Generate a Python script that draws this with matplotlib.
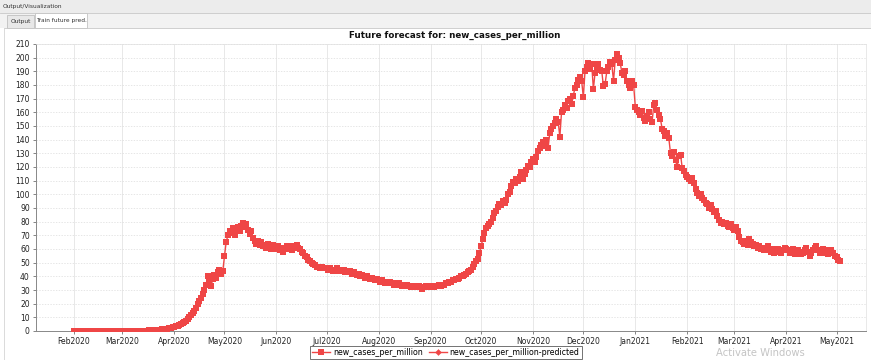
import matplotlib
matplotlib.use('Agg')
import matplotlib.pyplot as plt
import matplotlib.dates as mdates
from matplotlib.lines import Line2D
from matplotlib.patches import Rectangle
import numpy as np
import datetime

# ---------------- data (daily, starting 2020-02-01) ----------------
feb2020 = [0.0, 0.0, 0.0, 0.0, 0.0, 0.0, 0.0, 0.0, 0.0, 0.0, 0.0, 0.0, 0.0, 0.0, 0.0,
           0.0, 0.0, 0.0, 0.0, 0.0, 0.0, 0.0, 0.0, 0.0, 0.0, 0.0, 0.0, 0.0, 0.0]
mar2020 = [0.0, 0.0, 0.0, 0.0, 0.0, 0.0, 0.1, 0.1, 0.1, 0.1, 0.1, 0.2, 0.2, 0.2, 0.3, 0.3,
           0.4, 0.4, 0.5, 0.6, 0.7, 0.8, 0.9, 1.0, 1.2, 1.4, 1.6, 1.8, 2.0, 2.3, 2.6]
apr2020 = [3.0, 3.4, 4.0, 4.5, 5.2, 6.0, 6.8, 7.5, 9.0, 10.5, 12.0, 13.5, 15.0, 17.0, 19.5,
           22.0, 24.0, 27.0, 30.0, 34.0, 40.0, 36.0, 33.0, 38.0, 41.0, 39.0, 43.0, 45.0, 42.0, 44.0]
may2020 = [55, 65, 70, 73, 72, 75, 70, 74, 76, 73, 77, 79, 76, 78, 74, 71, 73, 68, 66, 64,
           66, 63, 65, 62, 63, 61, 64, 62, 60, 63, 61]
jun2020 = [60, 62, 59, 61, 58, 60, 62, 60, 61, 59, 62, 61, 63, 61, 60, 58, 57, 55, 54, 52,
           51, 50, 49, 48, 47, 47, 46, 47, 46, 46]
jul2020 = [46, 45, 46, 45, 44, 45, 46, 44, 45, 44, 45, 43, 44, 43, 44, 42, 43, 42, 41, 42,
           40, 41, 40, 39, 40, 39, 38, 39, 38, 37, 38]
aug2020 = [37, 36, 37, 36, 35, 36, 35, 36, 35, 34, 35, 34, 35, 34, 33, 34, 33, 34, 33, 32,
           33, 32, 33, 32, 33, 32, 31, 32, 33, 32, 33]
sep2020 = [32, 33, 32, 33, 33, 34, 33, 34, 34, 35, 35, 36, 36, 37, 37, 38, 38, 39, 40, 40,
           41, 42, 43, 44, 45, 47, 49, 51, 53, 57]
oct2020 = [62, 67, 72, 75, 77, 78, 80, 83, 86, 88, 91, 93, 92, 95, 94, 96, 100, 102, 106, 109,
           108, 111, 110, 113, 116, 111, 115, 118, 121, 120, 124]
nov2020 = [126, 124, 127, 132, 134, 136, 138, 135, 140, 134, 145, 148, 150, 152, 155, 153, 142,
           160, 162, 165, 163, 168, 170, 166, 172, 178, 180, 184, 186, 183]
dec2020 = [171, 190, 193, 196, 192, 195, 177, 189, 193, 195, 191, 190, 179, 181, 190, 193, 197,
           195, 183, 198, 203, 200, 196, 189, 187, 190, 183, 180, 178, 183, 180]
jan2021 = [164, 162, 160, 158, 161, 156, 154, 157, 160, 155, 153, 165, 167, 162, 158, 155, 148,
           146, 143, 145, 141, 130, 128, 131, 125, 120, 128, 129, 119, 117, 114]
feb2021 = [113, 111, 110, 112, 108, 104, 101, 99, 100, 97, 96, 94, 93, 90, 92, 89, 87, 88, 84,
           81, 79, 80, 78, 79, 77, 76, 78, 75]
mar2021 = [74, 76, 73, 69, 66, 65, 64, 66, 63, 67, 65, 64, 62, 63, 61, 62, 60, 61, 59, 60, 62,
           59, 58, 60, 57, 59, 60, 58, 57, 59, 61]
apr2021 = [60, 59, 57, 58, 60, 56, 57, 59, 58, 56, 57, 59, 61, 58, 55, 57, 59, 61, 62, 59, 57,
           58, 60, 59, 57, 56, 58, 59, 57, 55]
may2021 = [54, 52, 51]

start_date = '2020-02-01'
month_labels = ['Feb2020', 'Mar2020', 'Apr2020', 'May2020', 'Jun2020', 'Jul2020', 'Aug2020',
                'Sep2020', 'Oct2020', 'Nov2020', 'Dec2020', 'Jan2021', 'Feb2021', 'Mar2021',
                'Apr2021', 'May2021']
y_ticks = list(range(0, 211, 10))
title = 'Future forecast for: new_cases_per_million'
series_names = ['new_cases_per_million', 'new_cases_per_million-predicted']

values = (feb2020 + mar2020 + apr2020 + may2020 + jun2020 + jul2020 + aug2020 + sep2020 +
          oct2020 + nov2020 + dec2020 + jan2021 + feb2021 + mar2021 + apr2021 + may2021)
dates = np.datetime64(start_date) + np.arange(len(values))
dates = dates.astype('datetime64[D]').astype(datetime.datetime)

RED = '#EF4646'

fig = plt.figure(figsize=(8.71, 3.60), dpi=100)
fig.patch.set_facecolor('white')

# ---------------- window chrome ----------------
W, H = 871.0, 360.0
def fx(x): return x / W
def fy(y): return 1 - y / H

fig.add_artist(Rectangle((0, fy(13)), 1, 13 / H, transform=fig.transFigure,
                         facecolor='#ececec', edgecolor='none', zorder=0))
fig.add_artist(Rectangle((0, fy(28)), 1, 15 / H, transform=fig.transFigure,
                         facecolor='#f2f2f2', edgecolor='none', zorder=0))
fig.add_artist(Line2D([0, 1], [fy(13), fy(13)], transform=fig.transFigure,
                      color='#c8c8c8', lw=0.6))
fig.add_artist(Line2D([fx(4), 1], [fy(28), fy(28)], transform=fig.transFigure,
                      color='#c8c8c8', lw=0.6))
fig.add_artist(Line2D([fx(4), fx(4)], [0, fy(28)], transform=fig.transFigure,
                      color='#d4d4d4', lw=0.6))
fig.text(fx(3), fy(6.5), 'Output/Visualization', fontsize=4.2, color='#333333',
         va='center', ha='left', family='DejaVu Sans')
# tabs
fig.add_artist(Rectangle((fx(7), fy(28)), 27 / W, 13 / H, transform=fig.transFigure,
                         facecolor='#e8e8e8', edgecolor='#b8b8b8', lw=0.5))
fig.add_artist(Rectangle((fx(35), fy(28)), 52 / W, 15 / H, transform=fig.transFigure,
                         facecolor='white', edgecolor='#b8b8b8', lw=0.5))
fig.text(fx(20.5), fy(21.5), 'Output', fontsize=4.2, color='#333333', ha='center', va='center')
fig.text(fx(61), fy(20.5), 'Train future pred.', fontsize=4.2, color='#333333',
         ha='center', va='center')

# ---------------- chart ----------------
ax = fig.add_axes([fx(36), fy(331), (866 - 36) / W, (331 - 44) / H])
ax.plot(dates, values, color=RED, lw=1.0, marker='s', markersize=3.9,
        markeredgewidth=0, zorder=3)

tick_dates = [datetime.datetime.strptime(m, '%b%Y') for m in month_labels]
ax.set_xticks(tick_dates)
ax.set_xticklabels(month_labels)
ax.set_xlim(datetime.datetime(2020, 1, 9, 14), datetime.datetime(2021, 5, 18, 14))
ax.set_ylim(0, 210)
ax.set_yticks(y_ticks)
ax.set_yticklabels([str(v) for v in y_ticks])

ax.tick_params(axis='both', labelsize=5.5, colors='#555555', labelcolor='#222222',
               length=2.5, width=0.5, pad=2)
ax.grid(axis='y', color='#dcdcdc', lw=0.5, linestyle=(0, (2, 2)))
ax.grid(axis='x', color='#e4e4e4', lw=0.6, linestyle='-')
ax.set_axisbelow(True)
for side in ['top', 'right']:
    ax.spines[side].set_color('#e0e0e0')
    ax.spines[side].set_linewidth(0.5)
for side in ['left', 'bottom']:
    ax.spines[side].set_color('#888888')
    ax.spines[side].set_linewidth(0.7)

fig.text(fx(455), fy(35.5), title, fontsize=6.3, fontweight='bold', ha='center',
         va='center', color='#111111')

handles = [Line2D([], [], color=RED, lw=1.0, marker='s', markersize=3.8, markeredgewidth=0),
           Line2D([], [], color=RED, lw=1.0, marker='D', markersize=3.4, markeredgewidth=0)]
leg = fig.legend(handles, series_names, loc='center', bbox_to_anchor=(fx(446), fy(352.5)),
                 ncol=2, fontsize=5.7, frameon=True, fancybox=False, borderpad=0.25,
                 handlelength=2.2, handletextpad=0.4, columnspacing=0.8, borderaxespad=0)
leg.get_frame().set_edgecolor('#333333')
leg.get_frame().set_linewidth(0.6)

fig.text(fx(760), fy(353), 'Activate Windows', fontsize=7.2, color='#c4c4c4',
         ha='center', va='center')

fig.savefig('out.png', dpi=100)
